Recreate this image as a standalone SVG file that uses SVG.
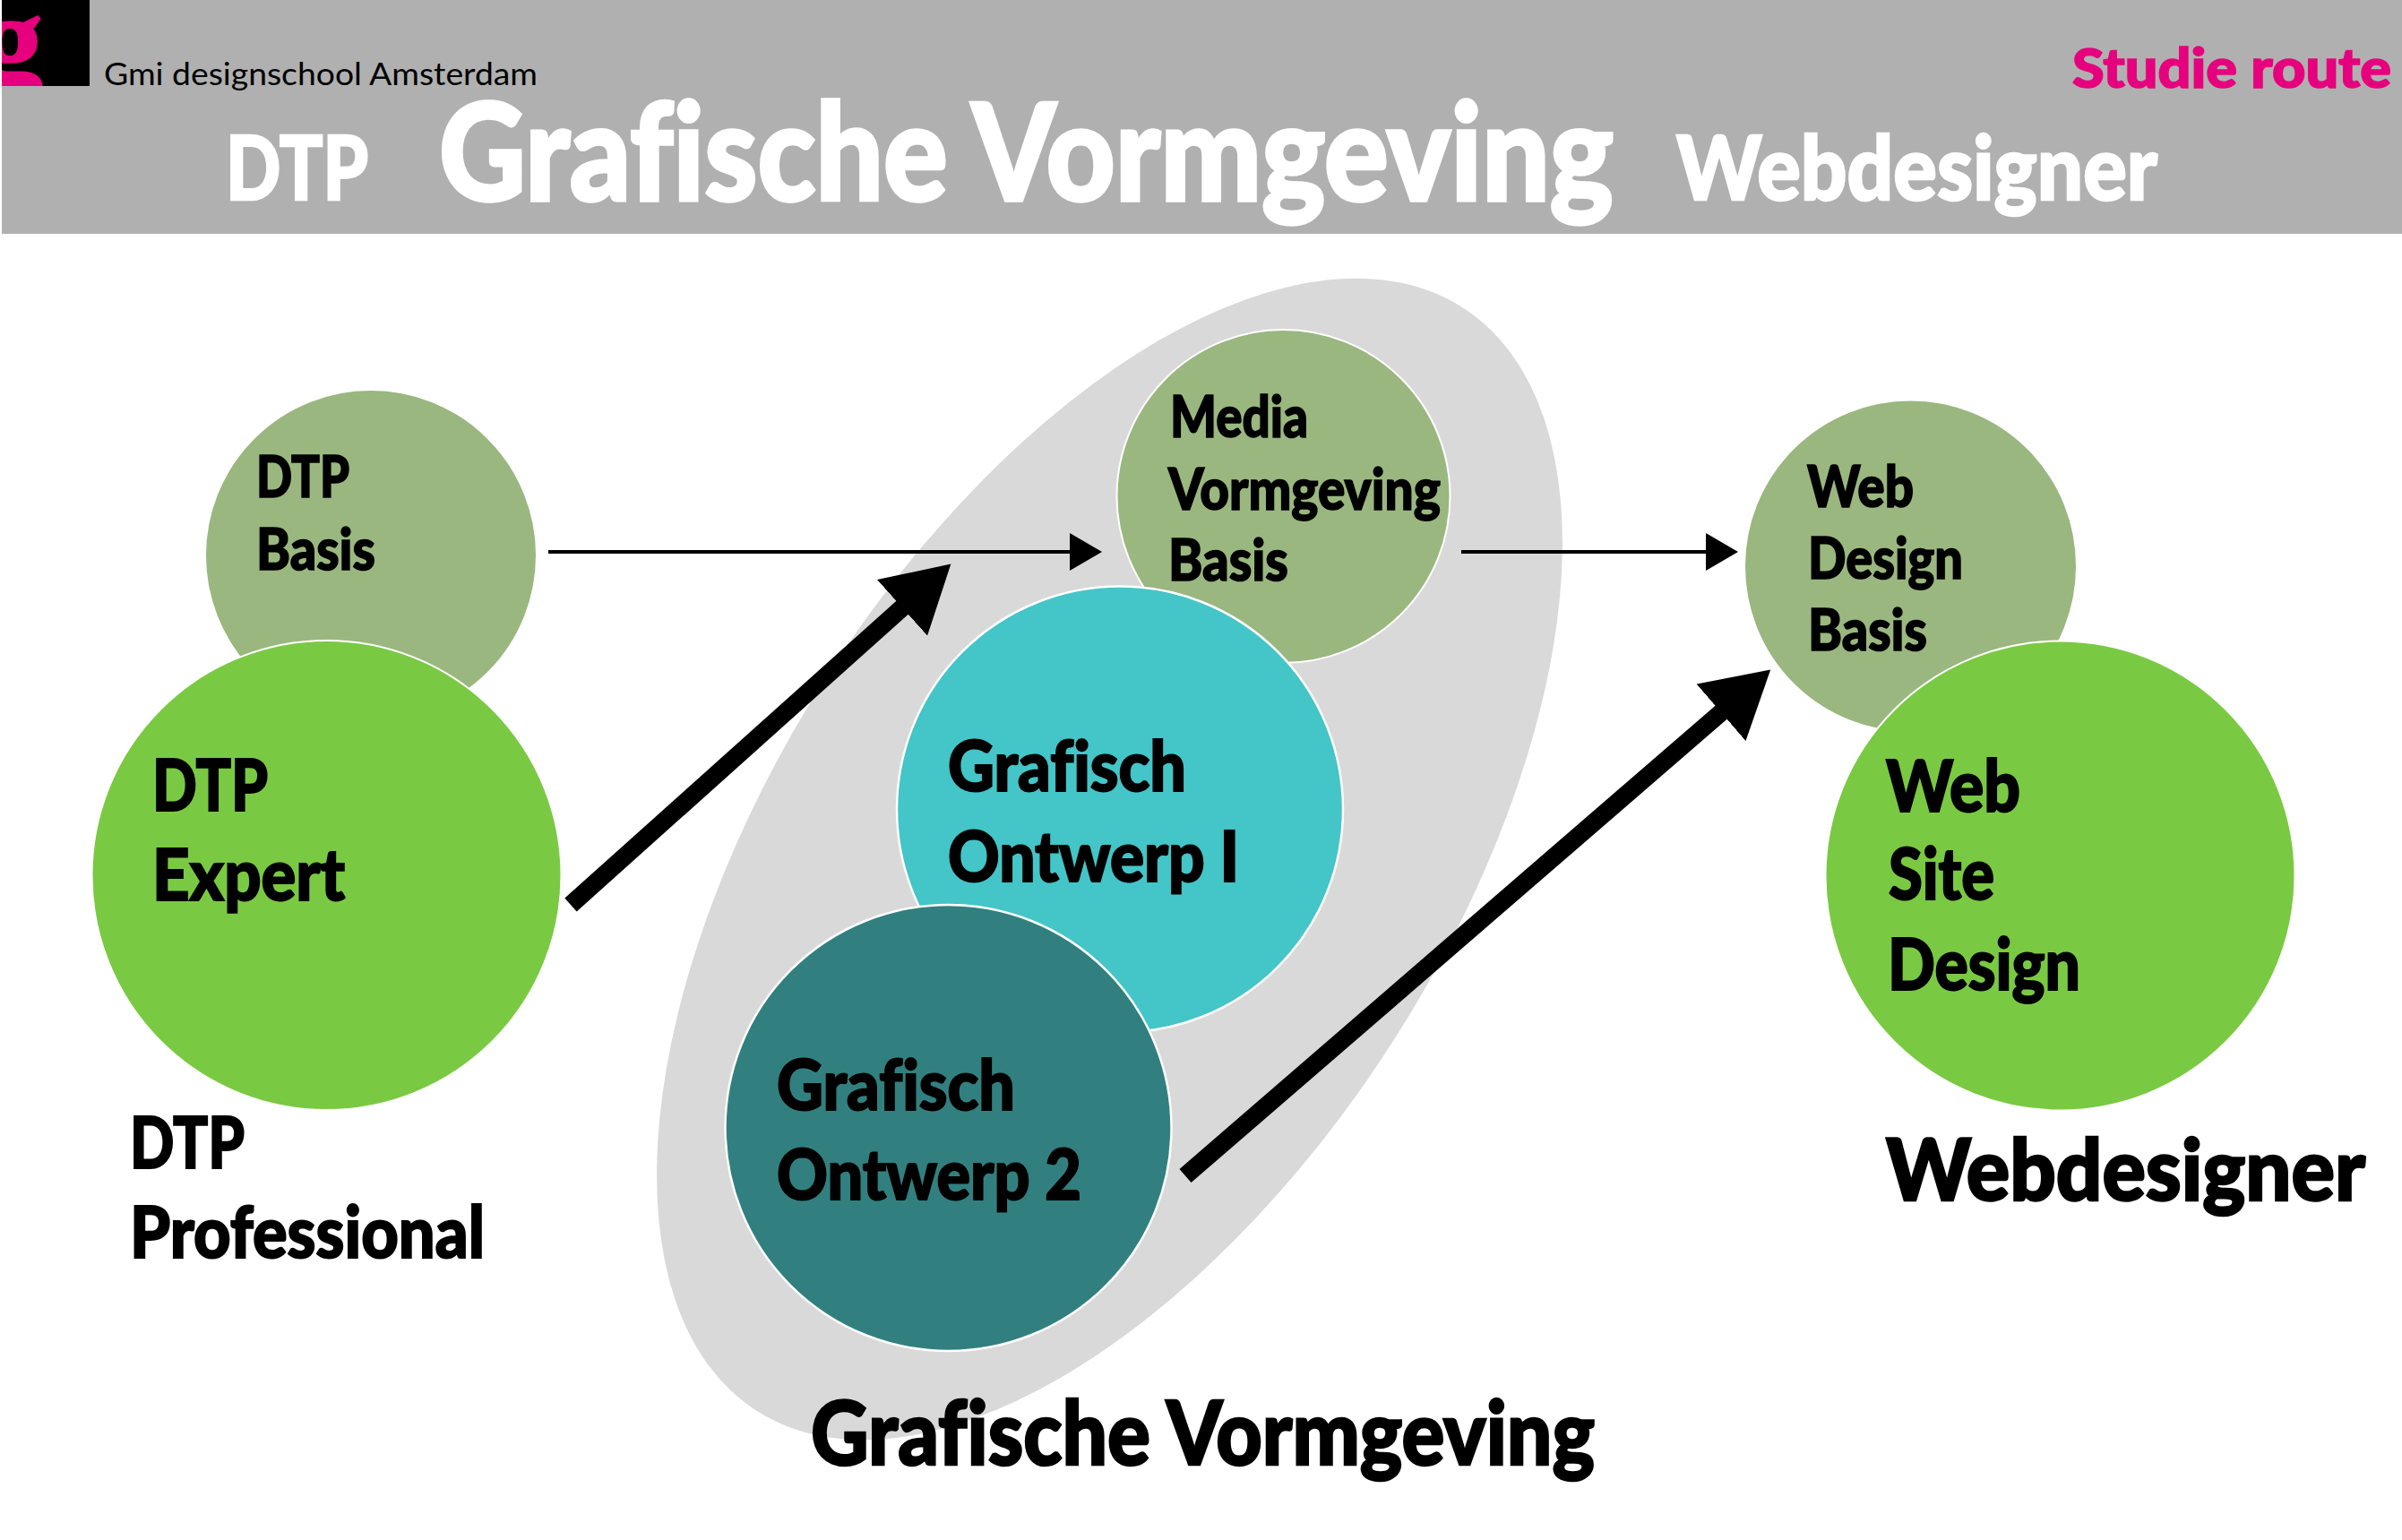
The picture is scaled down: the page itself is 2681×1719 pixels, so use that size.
<svg xmlns="http://www.w3.org/2000/svg" width="2681" height="1719" viewBox="0 0 2681 1719">
<style>
text{font-family:"Lato","Liberation Sans",sans-serif;font-weight:900;fill:#000;font-variant-ligatures:none;stroke:#000;stroke-width:1.6px}
.s64{font-size:64px}.s78{font-size:78px;stroke-width:2px}.s80{font-size:80px;stroke-width:2px}
.h{fill:#fff;stroke:#fff;stroke-width:2.5px}
.basis{fill:#9ab77f;stroke:#fff;stroke-width:2}
.expert{fill:#7ac943;stroke:#fff;stroke-width:2}
.thin{stroke:#000;stroke-width:4;fill:none;marker-end:url(#ah)}
.big{stroke:#000;stroke-width:20;fill:none;marker-end:url(#ab)}
</style>
<defs>
<marker id="ah" markerUnits="userSpaceOnUse" markerWidth="37" markerHeight="42" refX="1" refY="21" orient="auto"><path d="M0 0L36 21L0 42Z" fill="#000"/></marker>
<marker id="ab" markerUnits="userSpaceOnUse" markerWidth="74" markerHeight="84" refX="2" refY="42" orient="auto"><path d="M0 0L73 42L0 84Z" fill="#000"/></marker>
<clipPath id="lg"><rect x="2" y="0" width="98" height="96"/></clipPath>
</defs>
<rect width="2681" height="1719" fill="#fff"/>
<g id="header">
<rect x="2" y="0" width="2679" height="261" fill="#b0b0b0"/>
<rect x="2" y="0" width="98" height="96" fill="#000"/>
<text x="-24" y="92" clip-path="url(#lg)" style="font-family:'Liberation Serif',serif;font-weight:700;font-size:145px;fill:#e6007e;stroke:#e6007e">g</text>
<text x="116" y="95" textLength="484" lengthAdjust="spacingAndGlyphs" style="font-weight:400;font-size:35px;stroke:none">Gmi designschool Amsterdam</text>
<text class="h" x="252" y="223" textLength="159" lengthAdjust="spacingAndGlyphs" style="font-size:100px">DTP</text>
<text class="h" x="490" y="224" textLength="1311" lengthAdjust="spacingAndGlyphs" style="font-size:150px;stroke-width:3.5px">Grafische Vormgeving</text>
<text class="h" x="1871" y="223" textLength="537" lengthAdjust="spacingAndGlyphs" style="font-size:100px">Webdesigner</text>
<text x="2313" y="98" textLength="356" lengthAdjust="spacingAndGlyphs" style="font-size:60px;fill:#e6007e;stroke:#e6007e">Studie route</text>
</g>
<ellipse id="grafisch-area" cx="1238.5" cy="959" rx="731" ry="376" transform="rotate(-57.4 1238.5 959)" fill="#d9d9d9"/>
<g id="dtp-basis">
<circle class="basis" cx="414" cy="620" r="185"/>
<text class="s64" x="286" y="555" textLength="104" lengthAdjust="spacingAndGlyphs">DTP</text>
<text class="s64" x="286" y="636" textLength="133" lengthAdjust="spacingAndGlyphs">Basis</text>
</g>
<g id="dtp-expert">
<circle class="expert" cx="364.5" cy="977" r="262"/>
<text class="s80" x="170" y="905" textLength="129" lengthAdjust="spacingAndGlyphs">DTP</text>
<text class="s80" x="170" y="1005" textLength="215" lengthAdjust="spacingAndGlyphs">Expert</text>
</g>
<g id="media-basis">
<circle class="basis" cx="1432.5" cy="554" r="186"/>
<text class="s64" x="1306" y="488" textLength="154" lengthAdjust="spacingAndGlyphs">Media</text>
<text class="s64" x="1304" y="569" textLength="304" lengthAdjust="spacingAndGlyphs">Vormgeving</text>
<text class="s64" x="1304" y="648" textLength="134" lengthAdjust="spacingAndGlyphs">Basis</text>
</g>
<g id="grafisch-1">
<circle cx="1250" cy="903.5" r="249" fill="#44c5c7" stroke="#fff" stroke-width="2.5"/>
<text class="s78" x="1058" y="883" textLength="266" lengthAdjust="spacingAndGlyphs">Grafisch</text>
<text class="s78" x="1058" y="984" textLength="325" lengthAdjust="spacingAndGlyphs">Ontwerp I</text>
</g>
<g id="grafisch-2">
<circle cx="1058.5" cy="1259" r="249" fill="#31807f" stroke="#fff" stroke-width="2.5"/>
<text class="s78" x="867" y="1239" textLength="266" lengthAdjust="spacingAndGlyphs">Grafisch</text>
<text class="s78" x="867" y="1339" textLength="340" lengthAdjust="spacingAndGlyphs">Ontwerp 2</text>
</g>
<g id="web-basis">
<circle class="basis" cx="2132.5" cy="632" r="185.5"/>
<text class="s64" x="2017" y="566" textLength="119" lengthAdjust="spacingAndGlyphs">Web</text>
<text class="s64" x="2018" y="646" textLength="173" lengthAdjust="spacingAndGlyphs">Design</text>
<text class="s64" x="2018" y="726" textLength="133" lengthAdjust="spacingAndGlyphs">Basis</text>
</g>
<g id="web-site">
<circle class="expert" cx="2299.5" cy="977.5" r="262"/>
<text class="s80" x="2105" y="906" textLength="150" lengthAdjust="spacingAndGlyphs">Web</text>
<text class="s80" x="2108" y="1004" textLength="118" lengthAdjust="spacingAndGlyphs">Site</text>
<text class="s80" x="2107" y="1105" textLength="215" lengthAdjust="spacingAndGlyphs">Design</text>
</g>
<g id="connectors">
<line class="thin" x1="612" y1="616" x2="1195" y2="616"/>
<line class="thin" x1="1631" y1="616" x2="1905" y2="616"/>
<line class="big" x1="637" y1="1010" x2="1008.5" y2="677"/>
<line class="big" x1="1323" y1="1312.5" x2="1922.5" y2="794"/>
</g>
<g id="labels">
<text class="s80" x="145" y="1304" textLength="128" lengthAdjust="spacingAndGlyphs">DTP</text>
<text class="s80" x="145" y="1404" textLength="396" lengthAdjust="spacingAndGlyphs">Professional</text>
<text x="2105" y="1340" textLength="535" lengthAdjust="spacingAndGlyphs" style="font-size:95px;stroke-width:2.5px">Webdesigner</text>
<text x="905" y="1635" textLength="875" lengthAdjust="spacingAndGlyphs" style="font-size:100px;stroke-width:2.5px">Grafische Vormgeving</text>
</g>
</svg>
